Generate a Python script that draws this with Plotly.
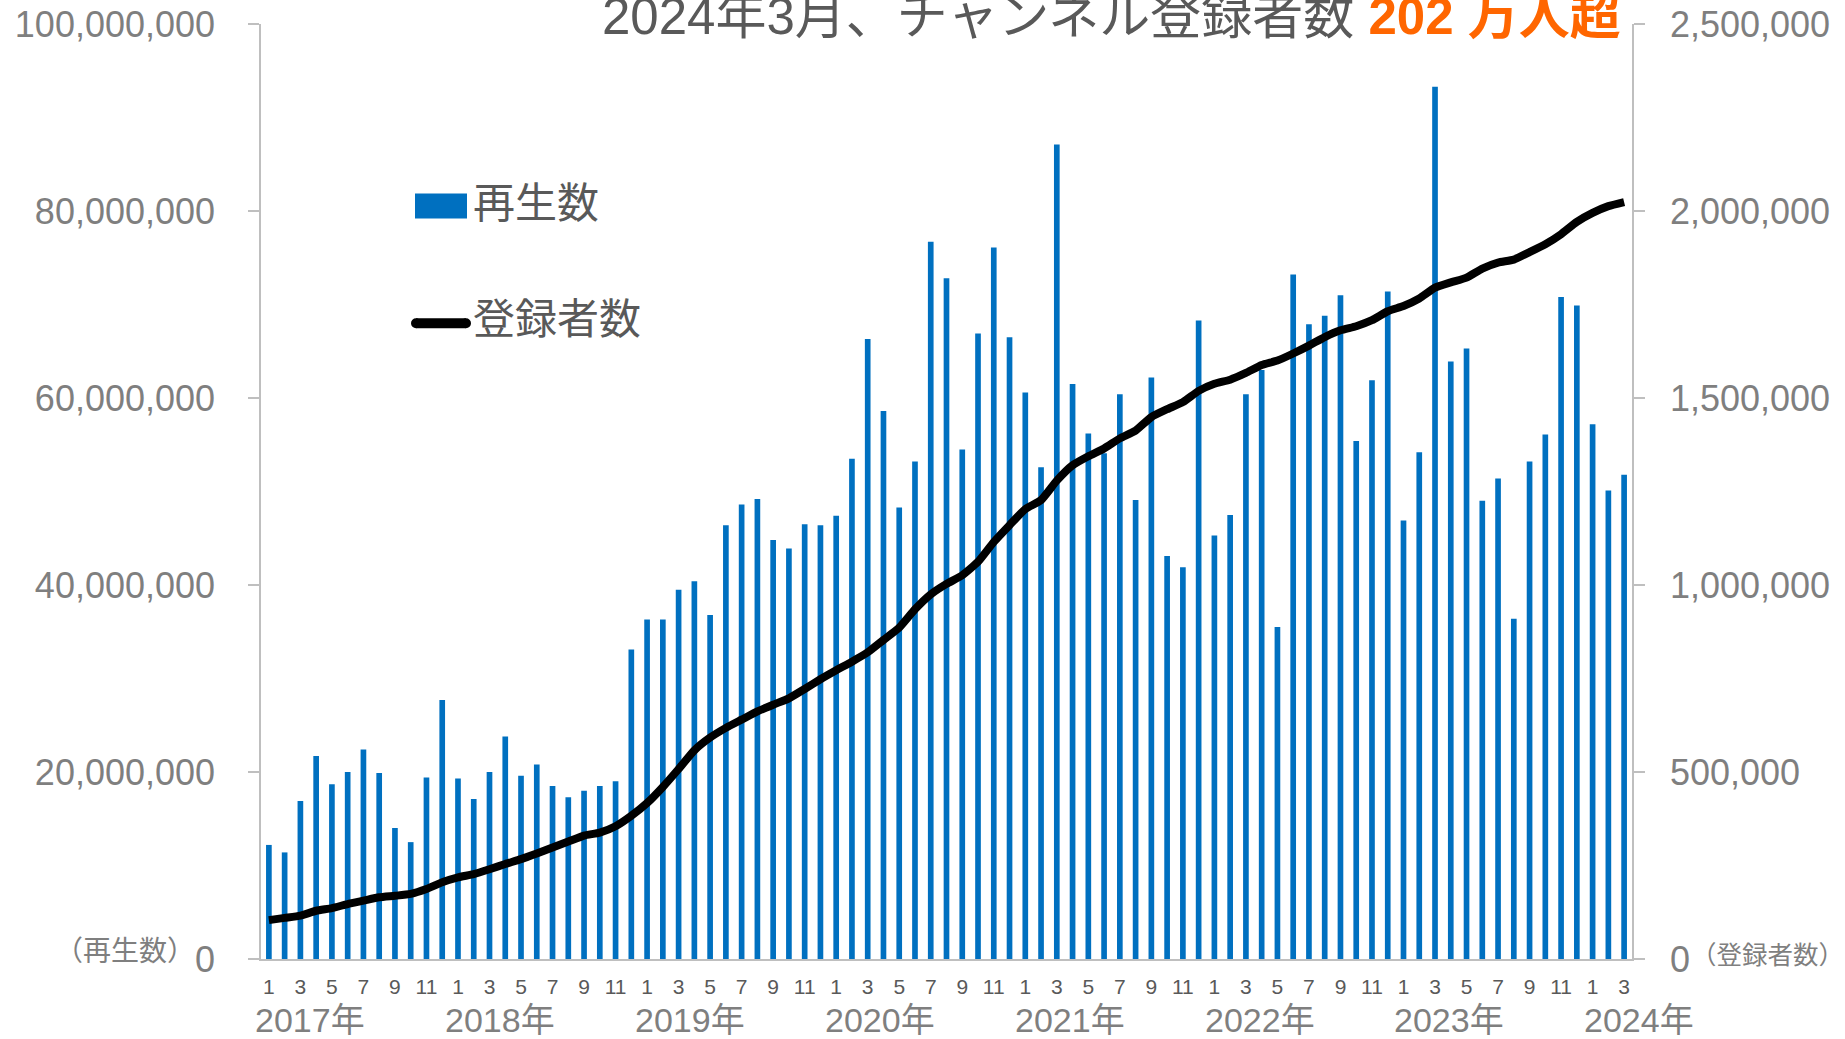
import plotly.graph_objects as go

# ---------------- data ----------------
years = [2017, 2018, 2019, 2020, 2021, 2022, 2023, 2024]
months = [1, 2, 3, 4, 5, 6, 7, 8, 9, 10, 11, 12] * 7 + [1, 2, 3]

# monthly views (再生数)
views = [
    12.2e6, 11.4e6, 16.9e6, 21.7e6, 18.7e6, 20.0e6, 22.4e6, 19.9e6, 14.0e6, 12.5e6, 19.4e6, 27.7e6,
    19.3e6, 17.1e6, 20.0e6, 23.8e6, 19.6e6, 20.8e6, 18.5e6, 17.3e6, 18.0e6, 18.5e6, 19.0e6, 33.1e6,
    36.3e6, 36.3e6, 39.5e6, 40.4e6, 36.8e6, 46.4e6, 48.6e6, 49.2e6, 44.8e6, 43.9e6, 46.5e6, 46.4e6,
    47.4e6, 53.5e6, 66.3e6, 58.6e6, 48.3e6, 53.2e6, 76.7e6, 72.8e6, 54.5e6, 66.9e6, 76.1e6, 66.5e6,
    60.6e6, 52.6e6, 87.1e6, 61.5e6, 56.2e6, 54.1e6, 60.4e6, 49.1e6, 62.2e6, 43.1e6, 41.9e6, 68.3e6,
    45.3e6, 47.5e6, 60.4e6, 63.0e6, 35.5e6, 73.2e6, 67.9e6, 68.8e6, 71.0e6, 55.4e6, 61.9e6, 71.4e6,
    46.9e6, 54.2e6, 93.3e6, 63.9e6, 65.3e6, 49.0e6, 51.4e6, 36.4e6, 53.2e6, 56.1e6, 70.8e6, 69.9e6,
    57.2e6, 50.1e6, 51.8e6,
]

# channel subscribers (登録者数)
subscribers = [
    104e3, 110e3, 116e3, 129e3, 136e3, 147e3, 156e3, 165e3, 169e3, 174e3, 187e3, 205e3,
    218e3, 227e3, 240e3, 254e3, 267e3, 282e3, 298e3, 314e3, 330e3, 338e3, 355e3, 383e3,
    417e3, 460e3, 508e3, 558e3, 592e3, 618e3, 640e3, 662e3, 680e3, 697e3, 722e3, 748e3,
    772e3, 795e3, 820e3, 853e3, 886e3, 935e3, 975e3, 1003e3, 1026e3, 1062e3, 1115e3, 1160e3,
    1203e3, 1227e3, 1279e3, 1320e3, 1344e3, 1365e3, 1392e3, 1413e3, 1449e3, 1470e3, 1489e3, 1519e3,
    1538e3, 1549e3, 1567e3, 1588e3, 1600e3, 1619e3, 1640e3, 1663e3, 1681e3, 1692e3, 1708e3, 1732e3,
    1746e3, 1766e3, 1795e3, 1809e3, 1822e3, 1846e3, 1862e3, 1870e3, 1890e3, 1911e3, 1938e3, 1971e3,
    1995e3, 2013e3, 2024e3,
]

left_ticks = [0, 20e6, 40e6, 60e6, 80e6, 100e6]
right_ticks = [0, 500e3, 1000e3, 1500e3, 2000e3, 2500e3]

title_main = "2024年3月、チャンネル登録者数 "
title_hl = "202 万人超"
legend_views = "再生数"
legend_subs = "登録者数"
left_unit = "（再生数）"
right_unit = "（登録者数）"

# ---------------- layout geometry (pixels) ----------------
W, H = 1845, 1039
PL, PR, PT, PB = 261, 1632, 23.5, 959


def px(x):
    return (x - PL) / (PR - PL)


def py(y):
    return (PB - y) / (PB - PT)


FONT = "Liberation Sans, Arial, Noto Sans CJK JP, sans-serif"
n = len(months)
idx = list(range(n))
tickvals = [i for i, m in enumerate(months) if m % 2 == 1]
ticktext = [str(months[i]) for i in tickvals]

fig = go.Figure()
fig.add_trace(go.Bar(x=idx, y=views, marker=dict(color="#0070C0", line=dict(width=0)),
                     width=0.36, name=legend_views, yaxis="y"))
fig.add_trace(go.Scatter(x=idx, y=subscribers, mode="lines", name=legend_subs,
                         line=dict(color="black", width=8, shape="spline", smoothing=0.5),
                         yaxis="y2"))

axis_gray = "#BFBFBF"
fig.update_layout(
    width=W, height=H,
    margin=dict(l=PL, r=W - PR, t=PT, b=H - PB, pad=0, autoexpand=False),
    paper_bgcolor="white", plot_bgcolor="white",
    showlegend=False,
    font=dict(family=FONT, color="#7F7F7F"),
    xaxis=dict(range=[-0.5, n - 0.5], tickmode="array", tickvals=tickvals,
               ticktext=ticktext, showgrid=False, zeroline=False, showline=True,
               linecolor=axis_gray, linewidth=2, ticks="", ticklabelstandoff=8,
               automargin=False,
               tickfont=dict(size=21, color="#595959", family=FONT)),
    yaxis=dict(range=[0, 100e6], tickmode="array", tickvals=left_ticks, tickformat=",",
               showgrid=False, zeroline=False, showline=True, linecolor=axis_gray,
               linewidth=1.5, ticks="outside", ticklen=11, tickcolor=axis_gray,
               tickwidth=1.5, ticklabelstandoff=26, automargin=False,
               tickfont=dict(size=36, color="#7F7F7F", family=FONT)),
    yaxis2=dict(range=[0, 2.5e6], overlaying="y", side="right", tickmode="array",
                tickvals=right_ticks, tickformat=",", showgrid=False, zeroline=False,
                showline=True, linecolor=axis_gray, linewidth=1.5, ticks="outside",
                ticklen=11, tickcolor=axis_gray, tickwidth=1.5, ticklabelstandoff=18,
                automargin=False,
                tickfont=dict(size=36, color="#7F7F7F", family=FONT)),
)

annotations = []
# year labels (group labels under the month ticks)
for k, y in enumerate(years):
    annotations.append(dict(x=px(310 + k * 189.9), xref="paper", y=py(1020), yref="paper",
                            text=f"{y}年", showarrow=False, xanchor="center", yanchor="middle",
                            font=dict(size=34, color="#7F7F7F", family=FONT)))
# title
annotations.append(dict(x=px(1623), xref="paper", y=py(16), yref="paper",
                        text=f"{title_main}<b><span style='color:#FF6600'>{title_hl}</span></b>",
                        showarrow=False, xanchor="right", yanchor="middle",
                        font=dict(size=51, color="#595959", family=FONT)))
# unit labels
annotations.append(dict(x=px(197), xref="paper", y=py(951), yref="paper", text=left_unit,
                        showarrow=False, xanchor="right", yanchor="middle",
                        font=dict(size=28, color="#7F7F7F", family=FONT)))
annotations.append(dict(x=px(1689), xref="paper", y=py(955), yref="paper", text=right_unit,
                        showarrow=False, xanchor="left", yanchor="middle",
                        font=dict(size=25.5, color="#7F7F7F", family=FONT)))
# legend text
annotations.append(dict(x=px(471), xref="paper", y=py(203), yref="paper", text=legend_views,
                        showarrow=False, xanchor="left", yanchor="middle",
                        font=dict(size=42, color="#595959", family=FONT)))
annotations.append(dict(x=px(471), xref="paper", y=py(319), yref="paper", text=legend_subs,
                        showarrow=False, xanchor="left", yanchor="middle",
                        font=dict(size=42, color="#595959", family=FONT)))
fig.update_layout(annotations=annotations)

# legend swatches
shapes = [
    dict(type="rect", xref="paper", yref="paper", x0=px(415), x1=px(467), y0=py(218), y1=py(193),
         fillcolor="#0070C0", line=dict(width=0)),
    dict(type="line", xref="paper", yref="paper", x0=px(416), x1=px(466), y0=py(323), y1=py(323),
         line=dict(color="black", width=10)),
    dict(type="circle", xref="paper", yref="paper", x0=px(411), x1=px(421), y0=py(328), y1=py(318),
         fillcolor="black", line=dict(width=0)),
    dict(type="circle", xref="paper", yref="paper", x0=px(461), x1=px(471), y0=py(328), y1=py(318),
         fillcolor="black", line=dict(width=0)),
]
fig.update_layout(shapes=shapes)

fig.write_html("out.html")
